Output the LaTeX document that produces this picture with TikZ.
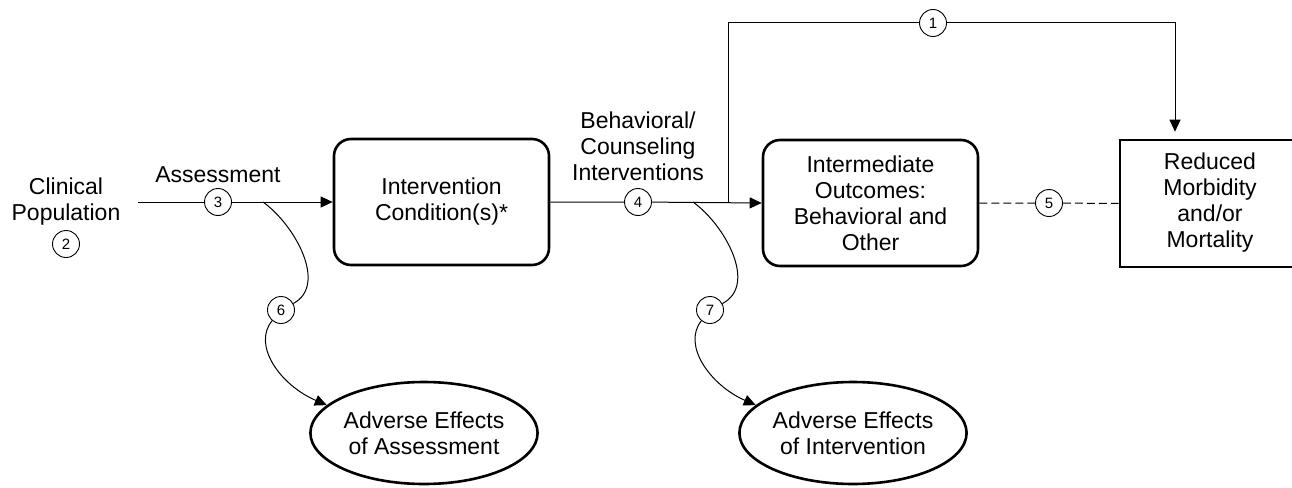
\documentclass[tikz,border=0pt]{standalone}
\usepackage{fontspec}
\setmainfont{Liberation Sans}
\usetikzlibrary{arrows.meta,shapes.geometric}
\begin{document}
\begin{tikzpicture}[x=1pt,y=-1pt,
  bigfont/.style={font=\fontsize{23}{26}\selectfont},
  lbl/.style={bigfont,align=center,inner sep=0pt},
  rbox/.style={bigfont,draw,line width=2.6pt,rounded corners=17pt,align=center,inner sep=0pt,minimum width=215pt,minimum height=126pt},
  sbox/.style={bigfont,draw,line width=2.6pt,inner sep=0pt,minimum width=200pt,minimum height=127pt},
  oval/.style={bigfont,draw,ellipse,line width=2.6pt,align=center,inner sep=0pt,minimum width=214pt,minimum height=102pt},
  num/.style={draw,circle,fill=white,line width=0.9pt,minimum size=27pt,inner sep=0pt,font=\fontsize{15}{15}\selectfont},
  conn/.style={line width=1pt},
  arr/.style={-{Triangle[length=12pt,width=11pt]}},
  dashline/.style={conn,dash pattern=on 8pt off 4pt}
]
\useasboundingbox (0,0) rectangle (1292,487);
\clip (0,0) rectangle (1292,487);

% text labels
\node[lbl,anchor=north] (clin) at (66,178) {Clinical\\Population};
\node[num] (c2) at (66,244) {2};
\node[lbl,anchor=north] (assess) at (218,166) {Assessment};
\node[lbl,anchor=north] (behav) at (638,112) {Behavioral/\\Counseling\\Interventions};

% boxes
\node[rbox] (ic) at (441.5,202) {Intervention\\Condition(s)*};
\node[rbox] (io) at (870.5,203) {Intermediate\\Outcomes:\\Behavioral and\\Other};
\node[sbox] (rm) at (1220,203.5) {\begin{tabular}{@{}c@{}}Reduced\\Morbidity\\and/or\\Mortality\end{tabular}\hspace*{20pt}};
\node[oval] (ae) at (424,433) {Adverse Effects\\of Assessment};
\node[oval] (ai) at (853,433) {Adverse Effects\\of Intervention};

% numbered circles
\node[num] (c3) at (218,202) {3};
\node[num] (c4) at (638,202) {4};
\node[num] (c1) at (933,23) {1};
\node[num] (c5) at (1049,203) {5};
\node[num] (c6) at (281,310) {6};
\node[num] (c7) at (710,310) {7};

% helper coordinates
\coordinate (start) at (138,202);
\coordinate (j) at (728,202);
\coordinate (t1) at (728,23);
\coordinate (t2) at (1175,23);
\coordinate (s6) at (263,202);
\coordinate (s7) at (693,202);

% connectors
\draw[conn,arr] (start) -- (c3) -- (ic.west);
\draw[conn,arr] (ic.east) -- (c4) -- (io.west);
\draw[conn,arr,shorten >=7pt] (j) -- (t1) -- (c1) -- (t2) -- (t2 |- rm.north);
\draw[dashline] (io.east) -- (c5) -- (rm.west);
\draw[conn] (s6) .. controls (295,225) and (328,285) .. (c6);
\draw[conn,arr] (c6) .. controls (252,345) and (280,385) .. (ae.164);
\draw[conn] (s7) .. controls (725,225) and (758,285) .. (c7);
\draw[conn,arr] (c7) .. controls (682,345) and (710,385) .. (ai.164);
\end{tikzpicture}
\end{document}
